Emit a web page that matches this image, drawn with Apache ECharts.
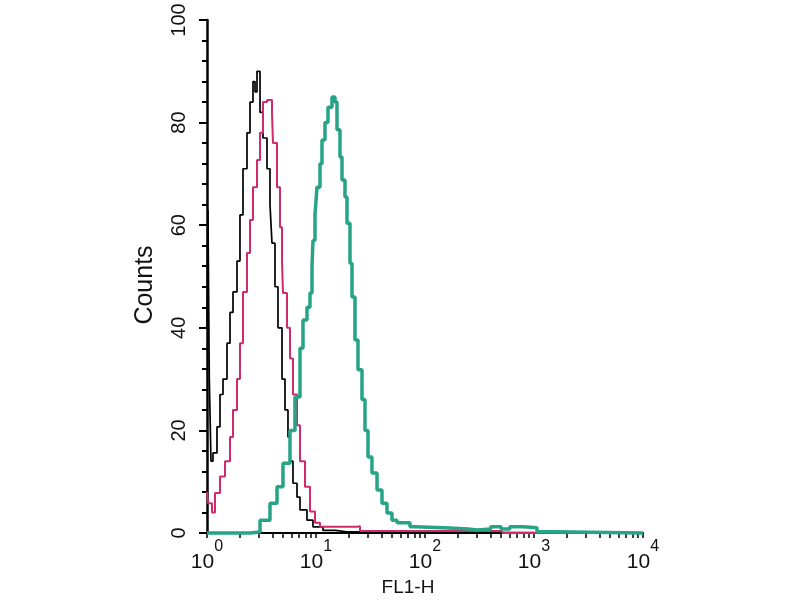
<!DOCTYPE html>
<html><head><meta charset="utf-8">
<script src="https://cdn.jsdelivr.net/npm/echarts@6/dist/echarts.min.js"></script>
<style>html,body{margin:0;padding:0;background:#fff}#c{width:800px;height:600px}</style>
</head><body><div id="c"></div>
<script>
// FL1-H values (log scale) and counts
const controlX = [1.00,1.02,1.05,1.088,1.135,1.235,1.316,1.402,1.526,1.626,1.732,1.885,2.007,2.139,2.328,2.48,2.642,2.757,2.876,3.065,3.264,3.552,3.784,3.947,4.205,4.48,4.876,5.195,5.533,5.773,6.15,6.694,7.131,8.268,9.38,11.59,15.0,20.0,10000];
const controlY = [40,63,30,14,15.6,20.7,27,30,37,43,47,53,62,71,78,84,88,86,90,82,77,71,64,56.5,48,40,30,24,18.7,14,9.7,7,4.5,2.5,1.2,0.5,0.2,0,0];

const isotypeX = [1.00,1.021,1.111,1.184,1.316,1.462,1.626,1.732,1.885,2.007,2.139,2.328,2.48,2.642,2.876,3.065,3.264,3.552,3.947,4.03,4.388,4.674,4.876,4.979,5.419,5.773,6.15,6.694,7.131,7.925,8.808,9.79,10.88,23.78,25.33,500,520,10000];
const isotypeY = [8,5.8,4,7.8,11,14,18.7,24,30,37,47,54.6,61,67.4,72.7,78,84,84.4,82,76,67.4,59.6,53,46.8,40,34,27,21,14,9,4.2,2,1.2,1.3,0.4,0.3,0,0];

const stainedX = [1.00,2.48,3.065,3.784,4.388,4.979,5.773,6.416,7.131,7.596,8.268,8.808,9.19,9.38,9.79,10.21,10.88,11.35,12.09,12.88,14.02,14.93,15.58,16.6,17.32,18.45,19.25,20.5,21.39,22.79,24.28,26.42,28.15,30.0,32.6,36.3,40.3,44.8,49.8,55.4,66.0,72.8,80.0,150,250,300,400,500,600,800,1066,1100,10000];
const stainedY = [0,0.2,2.5,5.8,9,13.6,20,26.5,36,41.5,44,46.8,52,57,62,67.4,72,76.6,80,83,85,84,78.6,73.3,68.8,65.5,60.4,52.6,46,37.6,31.8,26,20,14.8,11.7,8.4,5.8,3.9,2.5,2,2,1.2,1,0.8,0.6,0.8,1.2,0.8,1.2,1,0.3,0,0];

const yTicks = [0,20,40,60,80,100];
const xDecades = [1,10,100,1000,10000];
const xTicks = [];
xDecades.forEach((d,i)=>{ if(i<xDecades.length-1){ for(let k=1;k<10;k++) xTicks.push(d*k);} else xTicks.push(d); });

function zip(xs, ys){ return xs.map((x,i)=>[x, ys[i]]); }

const chart = echarts.init(document.getElementById('c'), null, {renderer:'canvas'});
chart.setOption({
  animation:false,
  backgroundColor:'#ffffff',
  grid:{left:207, right:157, top:20, bottom:67, containLabel:false, outerBoundsMode:'none'},
  xAxis:{
    type:'log', logBase:10, min:1, max:10000,
    name:'FL1-H', nameLocation:'middle', nameGap:42,
    nameTextStyle:{fontFamily:'Liberation Sans', fontSize:19, color:'#111', padding:[0,34,0,0]},
    axisLine:{lineStyle:{color:'#000', width:2}},
    axisTick:{show:true, customValues:xTicks, length:5, lineStyle:{color:'#000', width:1.5}},
    axisLabel:{customValues:xDecades, margin:6, color:'#111',
      formatter:function(v){ return '{b|10}{s|' + Math.round(Math.log10(v)) + '}'; },
      rich:{
        b:{fontFamily:'Liberation Sans', fontSize:21, color:'#111', lineHeight:34, verticalAlign:'bottom'},
        s:{fontFamily:'Liberation Sans', fontSize:16, color:'#111', lineHeight:16, verticalAlign:'top'}
      }},
    splitLine:{show:false}
  },
  yAxis:{
    type:'value', min:0, max:100, interval:20,
    name:'Counts', nameLocation:'middle', nameGap:49, nameRotate:90,
    nameTextStyle:{fontFamily:'Liberation Sans', fontSize:25, color:'#111', padding:[0,17,0,0]},
    axisLine:{show:true, lineStyle:{color:'#000', width:2.5}},
    axisTick:{show:true, length:8, lineStyle:{color:'#000', width:2}},
    minorTick:{show:true, splitNumber:5, length:5, lineStyle:{color:'#000', width:2}},
    axisLabel:{rotate:90, margin:18, fontFamily:'Liberation Sans', fontSize:20, color:'#111',
      customValues:yTicks},
    splitLine:{show:false}
  },
  series:[
    {type:'line', step:'end', symbol:'none', data:zip(controlX, controlY), clip:false,
      lineStyle:{color:'#000000', width:1.7}, z:3},
    {type:'line', step:'end', symbol:'none', data:zip(isotypeX, isotypeY), clip:false,
      lineStyle:{color:'#cf2a6b', width:2}, z:4},
    {type:'line', step:'end', symbol:'none', data:zip(stainedX, stainedY), clip:false,
      lineStyle:{color:'#27a386', width:3.5}, z:5}
  ]
});
</script></body></html>
